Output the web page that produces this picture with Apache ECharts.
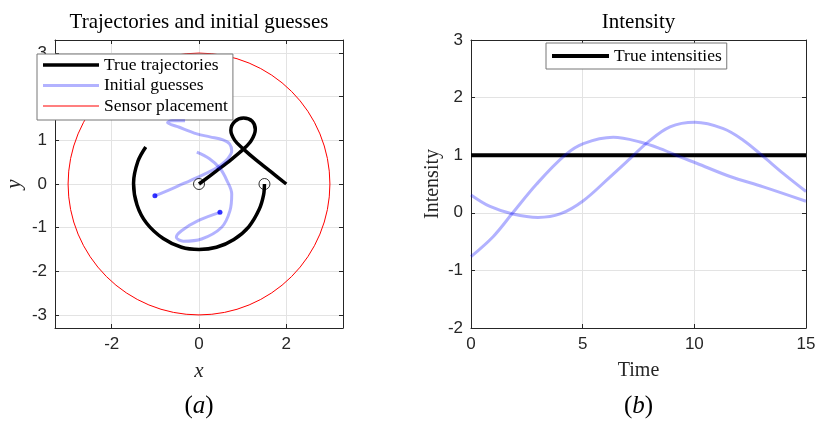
<!DOCTYPE html>
<html>
<head>
<meta charset="utf-8">
<title>Trajectories and intensity</title>
<script src="https://cdn.jsdelivr.net/npm/echarts@6/dist/echarts.min.js"></script>
<style>
  html, body { margin: 0; padding: 0; background: #fff; }
  #chart { width: 815px; height: 422px; }
</style>
</head>
<body>
<div id="chart"></div>
<script>
// ---- Panel (a): trajectories in the plane ----
const xyTicks = [-3, -2, -1, 0, 1, 2, 3];
const xTicksA = [-2, 0, 2];

// true trajectory 1: arc ending at (1.5, 0)
const trueArc = [
  [-1.22, 0.85], [-1.40, 0.52], [-1.50, 0.02], [-1.42, -0.48], [-1.20, -0.90],
  [-0.82, -1.25], [-0.40, -1.45], [0.00, -1.50], [0.40, -1.45], [0.80, -1.27],
  [1.14, -0.98], [1.38, -0.58], [1.48, -0.25], [1.50, 0.00]
];
// true trajectory 2: starts at the origin, loops, ends at (2, 0)
const trueLoop = [
  [0.00, 0.00], [0.40, 0.30], [0.75, 0.57], [1.02, 0.80], [1.20, 1.00],
  [1.29, 1.25], [1.22, 1.44], [1.02, 1.51], [0.82, 1.43], [0.73, 1.23],
  [0.82, 1.00], [1.02, 0.80], [1.32, 0.54], [1.66, 0.27], [2.00, 0.00]
];
// initial guesses
const guess1 = [
  [-1.01, -0.27], [-0.60, -0.10], [-0.20, 0.08], [0.20, 0.26], [0.46, 0.41],
  [0.66, 0.58], [0.75, 0.76], [0.70, 0.92], [0.55, 1.01], [0.25, 1.08],
  [-0.05, 1.15], [-0.45, 1.30], [-0.72, 1.41], [-0.62, 1.45], [-0.32, 1.45]
];
const guess2 = [
  [0.48, -0.65], [-0.02, -0.84], [-0.40, -1.07], [-0.52, -1.22], [-0.36, -1.31],
  [0.06, -1.26], [0.52, -0.99], [0.71, -0.61], [0.75, -0.23], [0.64, 0.08],
  [0.48, 0.36], [0.24, 0.58], [-0.05, 0.73]
];
const guessStarts = [[-1.01, -0.27], [0.48, -0.65]];
const trueStarts = [[0, 0], [1.5, 0]];
// sensors lie on a circle: [cx, cy, radius]
const sensorCircle = [[0, 0, 3]];

// ---- Panel (b): intensities over time ----
const timeTicks = [0, 5, 10, 15];
const intensityTicks = [-2, -1, 0, 1, 2, 3];
const trueIntensity = [[0, 1], [15, 1]];
const guessIntensityA = [
  [0, -0.76], [1.0, -0.41], [1.87, 0.00], [2.94, 0.50], [4.21, 1.00],
  [5.03, 1.20], [6.37, 1.31], [7.57, 1.23], [8.5, 1.11], [9.36, 0.97],
  [10.1, 0.86], [11.6, 0.63], [13.09, 0.45], [15, 0.20]
];
const guessIntensityB = [
  [0, 0.31], [0.85, 0.11], [1.87, -0.02], [3.0, -0.08], [3.99, -0.02],
  [5.03, 0.21], [6.22, 0.62], [7.12, 0.94], [7.87, 1.21], [8.91, 1.49],
  [10.03, 1.57], [11.3, 1.46], [12.19, 1.26], [13.02, 1.00], [13.99, 0.68], [15, 0.37]
];

const AX = '#262626';
const GRIDC = '#e3e3e3';
const SERIF = '"Liberation Serif", "Times New Roman", serif';
const SANS = '"Liberation Sans", Arial, sans-serif';
const BLUE = 'rgba(0,0,255,0.3)';

// shared look of every axis; the top/right copies only close the box and carry ticks
function makeAxis(extra, ticks, primary) {
  return Object.assign({
    type: 'value',
    axisLine: { show: true, onZero: false, lineStyle: { color: AX, width: 1 } },
    axisTick: { show: true, inside: true, length: 4, customValues: ticks, lineStyle: { color: AX } },
    axisLabel: primary
      ? { show: true, customValues: ticks, color: AX, fontFamily: SANS, fontSize: 17 }
      : { show: false },
    splitLine: primary
      ? { show: true, lineStyle: { color: GRIDC, width: 1 } }
      : { show: false }
  }, extra);
}

const chart = echarts.init(document.getElementById('chart'), null, { renderer: 'canvas' });

const option = {
  animation: false,
  backgroundColor: '#fff',
  grid: [
    { left: 55, top: 40, width: 288, height: 288, outerBoundsMode: 'none' },
    { left: 471, top: 40, width: 335, height: 288, outerBoundsMode: 'none' }
  ],
  xAxis: [
    makeAxis({ gridIndex: 0, min: -3.3, max: 3.3, position: 'bottom',
      name: 'x', nameLocation: 'middle', nameGap: 33,
      nameTextStyle: { fontFamily: SERIF, fontStyle: 'italic', fontSize: 21, color: AX } }, xTicksA, true),
    makeAxis({ gridIndex: 0, min: -3.3, max: 3.3, position: 'top' }, xTicksA, false),
    makeAxis({ gridIndex: 1, min: 0, max: 15, position: 'bottom',
      name: 'Time', nameLocation: 'middle', nameGap: 33,
      nameTextStyle: { fontFamily: SERIF, fontSize: 20, color: AX } }, timeTicks, true),
    makeAxis({ gridIndex: 1, min: 0, max: 15, position: 'top' }, timeTicks, false)
  ],
  yAxis: [
    makeAxis({ gridIndex: 0, min: -3.3, max: 3.3, position: 'left',
      name: 'y', nameLocation: 'middle', nameGap: 30,
      nameTextStyle: { fontFamily: SERIF, fontStyle: 'italic', fontSize: 21, color: AX } }, xyTicks, true),
    makeAxis({ gridIndex: 0, min: -3.3, max: 3.3, position: 'right' }, xyTicks, false),
    makeAxis({ gridIndex: 1, min: -2, max: 3, position: 'left',
      name: 'Intensity', nameLocation: 'middle', nameGap: 28,
      nameTextStyle: { fontFamily: SERIF, fontSize: 20, color: AX } }, intensityTicks, true),
    makeAxis({ gridIndex: 1, min: -2, max: 3, position: 'right' }, intensityTicks, false)
  ],
  legend: [
    {
      data: [
        { name: 'True trajectories', icon: 'path://M0,0L56,0L56,3.5L0,3.5Z' },
        { name: 'Initial guesses', icon: 'path://M0,0L56,0L56,3L0,3Z' },
        { name: 'Sensor placement', icon: 'path://M0,0L56,0L56,1L0,1Z' }
      ],
      orient: 'vertical', left: 37, top: 54,
      padding: [2, 5, 5, 6], itemWidth: 56, itemHeight: 14, itemGap: 2.5,
      backgroundColor: '#fff', borderColor: '#777', borderWidth: 1, borderRadius: 0,
      selectedMode: false,
      itemStyle: { borderWidth: 0 },
      textStyle: { fontFamily: SERIF, fontSize: 17.5, lineHeight: 18, color: '#000' }
    },
    {
      data: [{ name: 'True intensities', icon: 'path://M0,0L57,0L57,4L0,4Z' }],
      orient: 'horizontal', left: 546, top: 43,
      padding: [4, 5, 4, 6], itemWidth: 57, itemHeight: 14,
      backgroundColor: '#fff', borderColor: '#777', borderWidth: 1, borderRadius: 0,
      selectedMode: false,
      itemStyle: { borderWidth: 0 },
      textStyle: { fontFamily: SERIF, fontSize: 17.5, lineHeight: 18, color: '#000' }
    }
  ],
  graphic: [
    { type: 'text', x: 199, y: 22, style: { text: 'Trajectories and initial guesses', font: '21px ' + SERIF, fill: '#000', textAlign: 'center', textVerticalAlign: 'middle' } },
    { type: 'text', x: 638.5, y: 22, style: { text: 'Intensity', font: '21px ' + SERIF, fill: '#000', textAlign: 'center', textVerticalAlign: 'middle' } },
    { type: 'text', x: 199, y: 406, style: { text: '{p|(}{i|a}{p|)}', textAlign: 'center', textVerticalAlign: 'middle',
        rich: { p: { fontFamily: SERIF, fontSize: 25, fill: '#000' }, i: { fontFamily: SERIF, fontSize: 25, fontStyle: 'italic', fill: '#000' } } } },
    { type: 'text', x: 638.5, y: 406, style: { text: '{p|(}{i|b}{p|)}', textAlign: 'center', textVerticalAlign: 'middle',
        rich: { p: { fontFamily: SERIF, fontSize: 25, fill: '#000' }, i: { fontFamily: SERIF, fontSize: 25, fontStyle: 'italic', fill: '#000' } } } }
  ],
  series: [
    {
      name: 'Sensor placement', type: 'custom', xAxisIndex: 0, yAxisIndex: 0,
      itemStyle: { color: '#ff0000' }, z: 1,
      encode: { x: 0, y: 1 },
      data: sensorCircle,
      renderItem: function (params, api) {
        const c = api.coord([api.value(0), api.value(1)]);
        const s = api.size([api.value(2), api.value(2)]);
        return { type: 'circle', shape: { cx: c[0], cy: c[1], r: s[0] },
          style: { fill: 'none', stroke: '#ff0000', lineWidth: 1 } };
      }
    },
    { name: 'True trajectories', type: 'line', xAxisIndex: 0, yAxisIndex: 0, data: trueArc,
      smooth: 0.35, symbol: 'none', z: 3, itemStyle: { color: '#000' }, lineStyle: { color: '#000', width: 3.5 } },
    { name: 'True trajectories', type: 'line', xAxisIndex: 0, yAxisIndex: 0, data: trueLoop,
      smooth: 0.35, symbol: 'none', z: 3, itemStyle: { color: '#000' }, lineStyle: { color: '#000', width: 3.5 } },
    { name: 'Initial guesses', type: 'line', xAxisIndex: 0, yAxisIndex: 0, data: guess1,
      smooth: 0.35, symbol: 'none', z: 4, itemStyle: { color: BLUE }, lineStyle: { color: BLUE, width: 3 } },
    { name: 'Initial guesses', type: 'line', xAxisIndex: 0, yAxisIndex: 0, data: guess2,
      smooth: 0.35, symbol: 'none', z: 4, itemStyle: { color: BLUE }, lineStyle: { color: BLUE, width: 3 } },
    { name: 'starts', type: 'scatter', xAxisIndex: 0, yAxisIndex: 0, data: trueStarts, z: 5,
      symbol: 'circle', symbolSize: 11, itemStyle: { color: 'rgba(0,0,0,0)', borderColor: '#000', borderWidth: 1 } },
    { name: 'guess starts', type: 'scatter', xAxisIndex: 0, yAxisIndex: 0, data: guessStarts, z: 5,
      symbol: 'circle', symbolSize: 5, itemStyle: { color: '#0000ff' } },

    { name: 'True intensities', type: 'line', xAxisIndex: 2, yAxisIndex: 2, data: trueIntensity,
      symbol: 'none', z: 3, itemStyle: { color: '#000' }, lineStyle: { color: '#000', width: 4 } },
    { name: 'intensity guess A', type: 'line', xAxisIndex: 2, yAxisIndex: 2, data: guessIntensityA,
      smooth: 0.35, symbol: 'none', z: 4, itemStyle: { color: BLUE }, lineStyle: { color: BLUE, width: 3 } },
    { name: 'intensity guess B', type: 'line', xAxisIndex: 2, yAxisIndex: 2, data: guessIntensityB,
      smooth: 0.35, symbol: 'none', z: 4, itemStyle: { color: BLUE }, lineStyle: { color: BLUE, width: 3 } }
  ]
};
chart.setOption(option);
</script>
</body>
</html>
